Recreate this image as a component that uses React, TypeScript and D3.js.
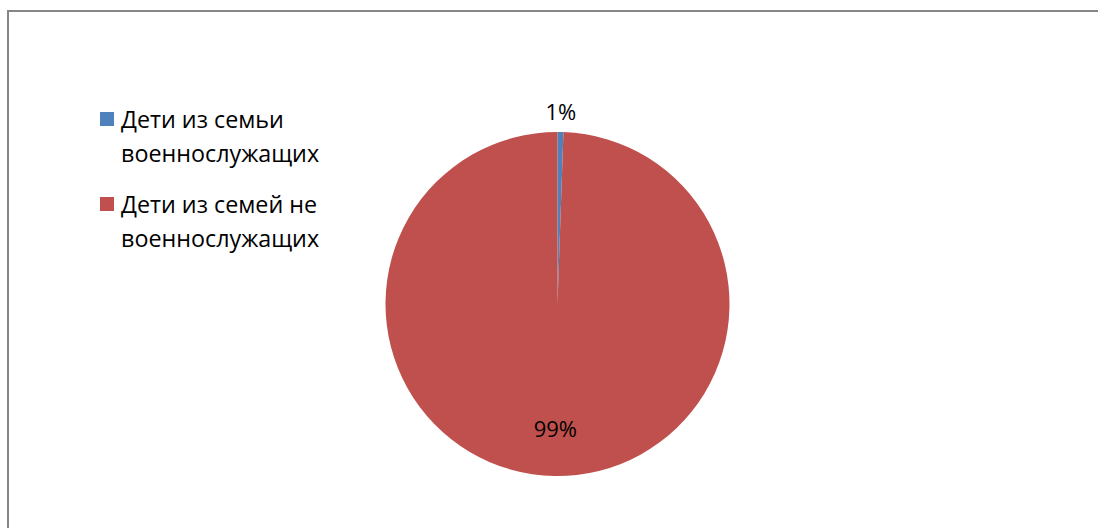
import React from "react";
import * as d3 from "d3";

const categories = ["Дети из семьи военнослужащих", "Дети из семей не военнослужащих"];
const legendLines = [["Дети из семьи", "военнослужащих"], ["Дети из семей не", "военнослужащих"]];
const values = [0.55, 99.45];
const labels = ["1%", "99%"];
const colors = ["#4F81BD", "#C0504D"];

const W = 1098;
const H = 528;
const FONT = "'Open Sans', 'Noto Sans', sans-serif";

export default function App() {
  const cx = 557.5;
  const cy = 304;
  const r = 172;
  const pie = d3.pie<number>().sort(null).value((d) => d)(values);
  const arc = d3.arc<d3.PieArcDatum<number>>().innerRadius(0).outerRadius(r);
  const labelPos = (d: d3.PieArcDatum<number>, i: number) => {
    const a = (d.startAngle + d.endAngle) / 2;
    const rr = i === 0 ? r * 1.12 : r * 0.72;
    return [Math.sin(a) * rr, -Math.cos(a) * rr];
  };
  return (
    <svg width={W} height={H} style={{ position: "absolute", left: 0, top: 0 }} fontFamily={FONT}>
      <rect x={0} y={0} width={W} height={H} fill="#fff" />
      <rect x={8} y={11} width={W + 20} height={H + 20} fill="none" stroke="#868686" strokeWidth={2} />
      <g transform={`translate(${cx},${cy})`}>
        {pie.map((d, i) => (
          <path key={i} d={arc(d) || ""} fill={colors[i]} />
        ))}
        {pie.map((d, i) => {
          const [x, y] = labelPos(d, i);
          return (
            <text key={i} x={x} y={y} textAnchor="middle" dominantBaseline="central" fontSize={22} fill="#000">
              {labels[i]}
            </text>
          );
        })}
      </g>
      {categories.map((c, i) => (
        <g key={c} transform={`translate(100,${112 + i * 85})`}>
          <rect x={0} y={0} width={14} height={14} fill={colors[i]} />
          {legendLines[i].map((l, j) => (
            <text key={j} x={21} y={16 + j * 34} fontSize={23.3} fill="#000">
              {l}
            </text>
          ))}
        </g>
      ))}
    </svg>
  );
}
